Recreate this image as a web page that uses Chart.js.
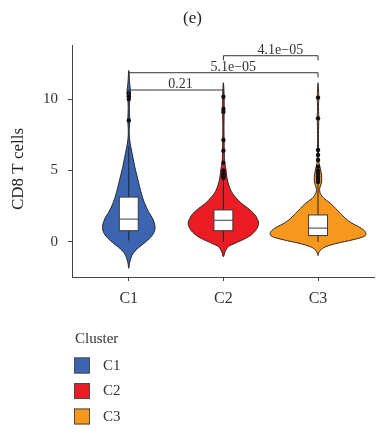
<!DOCTYPE html>
<html>
<head>
<meta charset="utf-8">
<script src="https://cdn.jsdelivr.net/npm/chart.js@4/dist/chart.umd.min.js"></script>
<style>
  html, body { margin: 0; padding: 0; background: #ffffff; }
  #wrap { width: 377px; height: 438px; }
</style>
</head>
<body>
<div id="wrap"><canvas id="chart" width="377" height="438"></canvas></div>
<script>
// Clusters and fill colours
const categories = ['C1', 'C2', 'C3'];
const clusterColors = ['#3b65b0', '#ec1c24', '#f7971d'];
const yTicks = [0, 5, 10];

// Box-plot summaries per cluster
const boxQ1 = [0.79, 0.79, 0.45];
const boxMedian = [1.60, 1.52, 0.97];
const boxQ3 = [3.14, 2.24, 1.89];
const whiskerLow = [0.10, 0.00, 0.02];
const whiskerHigh = [6.70, 4.45, 4.10];

// Outlying observations per cluster
const outliersC1 = [8.5, 10.0, 10.2, 10.4];
const outliersC2 = [4.5, 4.6, 4.7, 4.8, 5.0, 5.55, 6.38, 7.13, 9.1, 9.3, 10.16];
const outliersC3 = [4.2, 4.4, 4.6, 4.8, 5.0, 5.27, 5.73, 6.08, 6.43, 8.65, 10.1];

// Density profiles: [value, half width in x units]
const densityC1 = [[-1.84, 0], [-1.5, 0.008], [-1.26, 0.017], [-0.91, 0.035], [-0.56, 0.076], [-0.21, 0.139],
  [0.14, 0.202], [0.49, 0.251], [0.84, 0.275], [1.19, 0.275], [1.66, 0.251], [2.12, 0.209], [2.7, 0.168],
  [3.4, 0.133], [4.34, 0.097], [5.27, 0.063], [6.2, 0.035], [7.13, 0.01], [7.8, 0.005], [8.5, 0.01],
  [9.5, 0.006], [10.3, 0.016], [10.6, 0.018], [11.2, 0.008], [12.0, 0]];
const densityC2 = [[-1.03, 0], [-0.68, 0.018], [-0.33, 0.052], [-0.09, 0.123], [0.26, 0.238], [0.61, 0.314],
  [0.96, 0.356], [1.31, 0.372], [1.65, 0.356], [2.0, 0.321], [2.35, 0.262], [2.7, 0.192], [3.17, 0.123],
  [3.64, 0.076], [4.34, 0.042], [5.03, 0.028], [5.5, 0.015], [6.0, 0.01], [7.0, 0.008], [8.0, 0.006],
  [9.2, 0.008], [10.2, 0.008], [11.14, 0]];
const densityC3 = [[-0.95, 0], [-0.79, 0.006], [-0.56, 0.028], [-0.33, 0.081], [-0.09, 0.202], [0.14, 0.359],
  [0.37, 0.482], [0.61, 0.506], [0.84, 0.482], [1.07, 0.429], [1.31, 0.359], [1.65, 0.29], [2.0, 0.238],
  [2.35, 0.185], [2.7, 0.133], [3.05, 0.063], [3.4, 0.024], [3.76, 0.018], [4.1, 0.035], [4.57, 0.039],
  [5.03, 0.028], [5.5, 0.012], [6.0, 0.006], [7.5, 0.005], [8.65, 0.008], [9.5, 0.005], [10.1, 0.008], [11.14, 0]];

// Pairwise comparison brackets
const bracketFrom = [1, 1, 2];
const bracketTo = [2, 3, 3];
const bracketY = [10.63, 11.84, 13.03];
const bracketLabels = ['0.21', '5.1e\u221205', '4.1e\u221205'];
const bracketLabelX = [1.547, 2.104, 2.602];

const densities = [densityC1, densityC2, densityC3];
const outliers = [outliersC1, outliersC2, outliersC3];

const SERIF = '"Liberation Serif", "DejaVu Serif", serif';
const BOX_HALF = 0.1;
const TIP = 0.33;

// Closed Catmull-Rom curve through pixel points
function smoothClosed(ctx, pts) {
  const n = pts.length;
  ctx.moveTo(pts[0][0], pts[0][1]);
  for (let i = 0; i < n; i++) {
    const p0 = pts[(i - 1 + n) % n], p1 = pts[i], p2 = pts[(i + 1) % n], p3 = pts[(i + 2) % n];
    const c1x = p1[0] + (p2[0] - p0[0]) / 6, c1y = p1[1] + (p2[1] - p0[1]) / 6;
    const c2x = p2[0] - (p3[0] - p1[0]) / 6, c2y = p2[1] - (p3[1] - p1[1]) / 6;
    ctx.bezierCurveTo(c1x, c1y, c2x, c2y, p2[0], p2[1]);
  }
  ctx.closePath();
}

const violinPlugin = {
  id: 'violins',
  beforeDatasetsDraw(chart) {
    const { ctx, scales: { x, y } } = chart;
    ctx.save();
    densities.forEach((prof, g) => {
      const cx = g + 1;
      const right = prof.map(([v, w]) => [x.getPixelForValue(cx + w), y.getPixelForValue(v)]);
      const left = prof.slice(1, -1).reverse().map(([v, w]) => [x.getPixelForValue(cx - w), y.getPixelForValue(v)]);
      ctx.beginPath();
      smoothClosed(ctx, right.concat(left));
      ctx.fillStyle = clusterColors[g];
      ctx.fill();
      ctx.lineWidth = 0.9;
      ctx.strokeStyle = '#1a1a1a';
      ctx.stroke();
    });
    // Box plots
    categories.forEach((c, g) => {
      const cx = g + 1;
      const px = x.getPixelForValue(cx);
      const l = x.getPixelForValue(cx - BOX_HALF), r = x.getPixelForValue(cx + BOX_HALF);
      const q1 = y.getPixelForValue(boxQ1[g]), q3 = y.getPixelForValue(boxQ3[g]);
      const md = y.getPixelForValue(boxMedian[g]);
      ctx.strokeStyle = '#222222';
      ctx.lineWidth = 1;
      ctx.beginPath();
      ctx.moveTo(px, y.getPixelForValue(whiskerHigh[g])); ctx.lineTo(px, q3);
      ctx.moveTo(px, q1); ctx.lineTo(px, y.getPixelForValue(whiskerLow[g]));
      ctx.stroke();
      ctx.fillStyle = '#ffffff';
      ctx.fillRect(l, q3, r - l, q1 - q3);
      ctx.strokeStyle = '#3a3a3a';
      ctx.strokeRect(l, q3, r - l, q1 - q3);
      ctx.beginPath();
      ctx.moveTo(l, md); ctx.lineTo(r, md);
      ctx.stroke();
    });
    ctx.restore();
  },
  afterDraw(chart) {
    const { ctx, scales: { x, y } } = chart;
    ctx.save();
    // Significance brackets
    ctx.strokeStyle = '#333333';
    ctx.lineWidth = 1;
    ctx.fillStyle = '#333333';
    ctx.font = '14px ' + SERIF;
    ctx.textAlign = 'center';
    ctx.textBaseline = 'alphabetic';
    bracketLabels.forEach((lab, i) => {
      const x1 = x.getPixelForValue(bracketFrom[i]), x2 = x.getPixelForValue(bracketTo[i]);
      const yy = y.getPixelForValue(bracketY[i]), yt = y.getPixelForValue(bracketY[i] - TIP);
      ctx.beginPath();
      ctx.moveTo(x1, yt); ctx.lineTo(x1, yy); ctx.lineTo(x2, yy); ctx.lineTo(x2, yt);
      ctx.stroke();
      ctx.fillText(lab, x.getPixelForValue(bracketLabelX[i]), yy - 2);
    });
    // Axis title
    ctx.save();
    ctx.translate(18.5, 169);
    ctx.rotate(-Math.PI / 2);
    ctx.fillStyle = '#222222';
    ctx.font = '17px ' + SERIF;
    ctx.textBaseline = 'middle';
    ctx.fillText('CD8 T cells', 0, 0);
    ctx.restore();
    // Panel tag
    ctx.fillStyle = '#222222';
    ctx.font = '17px ' + SERIF;
    ctx.textBaseline = 'middle';
    ctx.fillText('(e)', 192.5, 19);
    // Legend
    ctx.textAlign = 'left';
    ctx.font = '15px ' + SERIF;
    ctx.fillStyle = '#333333';
    ctx.fillText('Cluster', 75, 339);
    categories.forEach((c, g) => {
      const top = 357.5 + g * 25.5;
      ctx.fillStyle = clusterColors[g];
      ctx.fillRect(74, top, 16, 16);
      ctx.strokeStyle = '#4a4a4a';
      ctx.lineWidth = 1;
      ctx.strokeRect(74.5, top + 0.5, 15, 15);
      ctx.fillStyle = '#333333';
      ctx.fillText(c, 103, top + 8.5);
    });
    ctx.restore();
  }
};

const datasets = outliers.map((vals, g) => ({
  label: categories[g],
  data: vals.map(v => ({ x: g + 1, y: v })),
  pointRadius: 2.2,
  pointHoverRadius: 2.2,
  pointBackgroundColor: '#111111',
  pointBorderWidth: 0,
  showLine: false
}));

new Chart(document.getElementById('chart'), {
  type: 'scatter',
  data: { datasets },
  options: {
    responsive: false,
    animation: false,
    devicePixelRatio: 1,
    layout: { padding: { top: 45, left: 0, right: 0, bottom: 0 } },
    plugins: { legend: { display: false }, tooltip: { enabled: false }, title: { display: false } },
    scales: {
      x: {
        type: 'linear',
        min: 0.4,
        max: 3.6,
        afterBuildTicks: s => { s.ticks = [1, 2, 3].map(v => ({ value: v })); },
        afterFit: s => { s.height = 161; },
        ticks: {
          callback: v => categories[v - 1],
          font: { family: SERIF, size: 16 },
          color: '#333333',
          padding: 8,
          autoSkip: false,
          maxRotation: 0
        },
        grid: { drawOnChartArea: false, drawTicks: true, tickLength: 4, color: '#444444', lineWidth: 1 },
        border: { display: true, color: '#444444', width: 1 }
      },
      y: {
        type: 'linear',
        min: -2.45,
        max: 13.78,
        afterBuildTicks: s => { s.ticks = yTicks.map(v => ({ value: v })); },
        afterFit: s => { s.width = 72; },
        ticks: {
          font: { family: SERIF, size: 15 },
          color: '#333333',
          padding: 10
        },
        grid: { drawOnChartArea: false, drawTicks: true, tickLength: 4, color: '#444444', lineWidth: 1 },
        border: { display: true, color: '#444444', width: 1 }
      }
    }
  },
  plugins: [violinPlugin]
});
</script>
</body>
</html>
